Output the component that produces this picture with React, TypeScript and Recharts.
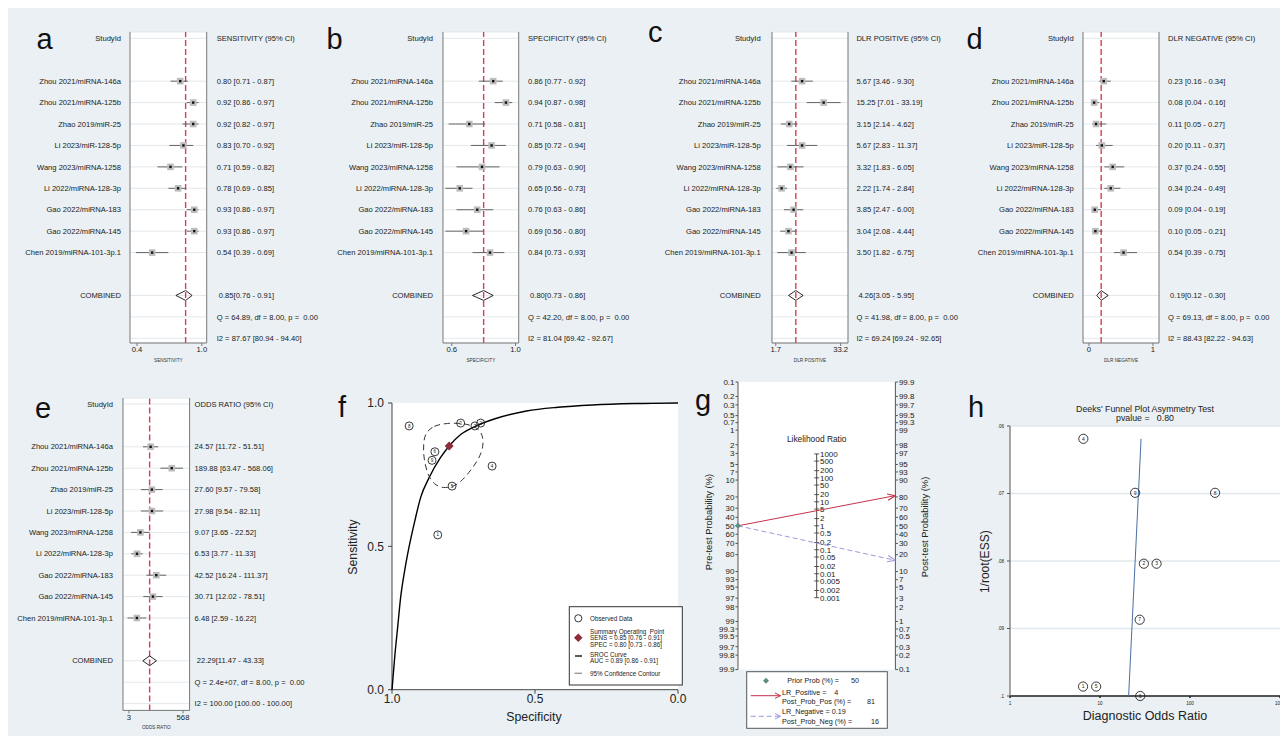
import React from "react";
import {
  ComposedChart,
  Scatter,
  XAxis,
  YAxis,
  CartesianGrid,
  ReferenceLine,
  ReferenceDot,
  ErrorBar,
} from "recharts";

const FONT = "'Liberation Sans', Arial, Helvetica, sans-serif";
const BG = "#eaf0f3";
const INK = "#222";

// ---------- study data (forest order) ----------
const studies = [
  "Zhou 2021/miRNA-146a",
  "Zhou 2021/miRNA-125b",
  "Zhao 2019/miR-25",
  "Li 2023/miR-128-5p",
  "Wang 2023/miRNA-1258",
  "Li 2022/miRNA-128-3p",
  "Gao 2022/miRNA-183",
  "Gao 2022/miRNA-145",
  "Chen 2019/miRNA-101-3p.1",
];
const studyNo = [9, 8, 7, 6, 5, 4, 3, 2, 1];

const sensEst = [0.8, 0.92, 0.92, 0.83, 0.71, 0.78, 0.93, 0.93, 0.54];
const sensLo = [0.71, 0.86, 0.82, 0.7, 0.59, 0.69, 0.86, 0.86, 0.39];
const sensHi = [0.87, 0.97, 0.97, 0.92, 0.82, 0.85, 0.97, 0.97, 0.69];
const sensPooled = [0.85, 0.76, 0.91];
const sensQ = "Q = 64.89, df = 8.00, p = \u00a00.00";
const sensI2 = "I2 = 87.67 [80.94 - 94.40]";
const sensTicks = [0.4, 1.0];

const specEst = [0.86, 0.94, 0.71, 0.85, 0.79, 0.65, 0.76, 0.69, 0.84];
const specLo = [0.77, 0.87, 0.58, 0.72, 0.63, 0.56, 0.63, 0.56, 0.73];
const specHi = [0.92, 0.98, 0.81, 0.94, 0.9, 0.73, 0.86, 0.8, 0.93];
const specPooled = [0.8, 0.73, 0.86];
const specQ = "Q = 42.20, df = 8.00, p = \u00a00.00";
const specI2 = "I2 = 81.04 [69.42 - 92.67]";
const specTicks = [0.6, 1.0];

const plrEst = [5.67, 15.25, 3.15, 5.67, 3.32, 2.22, 3.85, 3.04, 3.5];
const plrLo = [3.46, 7.01, 2.14, 2.83, 1.83, 1.74, 2.47, 2.08, 1.82];
const plrHi = [9.3, 33.19, 4.62, 11.37, 6.05, 2.84, 6.0, 4.44, 6.75];
const plrPooled = [4.26, 3.05, 5.95];
const plrQ = "Q = 41.98, df = 8.00, p = \u00a00.00";
const plrI2 = "I2 = 69.24 [69.24 - 92.65]";
const plrTicks = [1.7, 33.2];

const nlrEst = [0.23, 0.08, 0.11, 0.2, 0.37, 0.34, 0.09, 0.1, 0.54];
const nlrLo = [0.16, 0.04, 0.05, 0.11, 0.24, 0.24, 0.04, 0.05, 0.39];
const nlrHi = [0.34, 0.16, 0.27, 0.37, 0.55, 0.49, 0.19, 0.21, 0.75];
const nlrPooled = [0.19, 0.12, 0.3];
const nlrQ = "Q = 69.13, df = 8.00, p = \u00a00.00";
const nlrI2 = "I2 = 88.43 [82.22 - 94.63]";
const nlrTicks = [0, 1];

const dorEst = [24.57, 189.88, 27.6, 27.98, 9.07, 6.53, 42.52, 30.71, 6.48];
const dorLo = [11.72, 63.47, 9.57, 9.54, 3.65, 3.77, 16.24, 12.02, 2.59];
const dorHi = [51.51, 568.06, 79.58, 82.11, 22.52, 11.33, 111.37, 78.51, 16.22];
const dorPooled = [22.29, 11.47, 43.33];
const dorQ = "Q = 2.4e+07, df = 8.00, p = \u00a00.00";
const dorI2 = "I2 = 100.00 [100.00 - 100.00]";
const dorTicks = [3, 568];

// ---------- SROC ----------
const srocSpec = [1.0, 0.99, 0.98, 0.97, 0.955, 0.94, 0.92, 0.9, 0.87, 0.83, 0.8, 0.76, 0.71, 0.64, 0.53, 0.42, 0.3, 0.15, 0.0];
const srocSens = [0.0, 0.12, 0.22, 0.32, 0.42, 0.5, 0.59, 0.67, 0.74, 0.81, 0.85, 0.89, 0.918, 0.945, 0.972, 0.985, 0.993, 0.998, 1.0];
const contourSpec = [0.884, 0.855, 0.808, 0.75, 0.703, 0.682, 0.68, 0.697, 0.732, 0.767, 0.814, 0.855, 0.878, 0.89, 0.89];
const contourSens = [0.895, 0.921, 0.93, 0.93, 0.916, 0.889, 0.849, 0.802, 0.756, 0.715, 0.7, 0.715, 0.756, 0.814, 0.86];
const aucText = [0.89, 0.86, 0.91];

// ---------- Fagan ----------
const probTicks = [0.1, 0.2, 0.3, 0.5, 0.7, 1, 2, 3, 5, 7, 10, 20, 30, 40, 50, 60, 70, 80, 90, 93, 95, 97, 98, 99, 99.3, 99.5, 99.7, 99.8, 99.9];
const lrTicks = [1000, 500, 200, 100, 50, 20, 10, 5, 2, 1, 0.5, 0.2, 0.1, 0.05, 0.02, 0.01, 0.005, 0.002, 0.001];
const priorProb = 50;
const lrPositive = 4;
const lrNegative = 0.19;
const postPos = 81;
const postNeg = 16;

// ---------- Deeks ----------
const deeksY = [0.0699, 0.0699, 0.0887, 0.1, 0.0986, 0.0619, 0.0804, 0.0804, 0.0986];
const deeksFitX = [28.6, 20.8];
const deeksFitY = [0.0619, 0.1];
const deeksP = "0.80";
const deeksTicksX = [1, 10, 100, 1000];
const deeksTicksY = [0.06, 0.07, 0.08, 0.09, 0.1];

const f2 = (v: number) => v.toFixed(2);
const at = (x: number, y: number): React.CSSProperties => ({ position: "absolute", left: x - 8, top: y - 8 });
const logit = (p: number) => Math.log(p / (100 - p));

// plain one-line tick text (no wrapping)
const TextTick = (labels: Record<string, string>, fontSize: number) => (p: any) => (
  <text
    x={p.x}
    y={p.y}
    dy="0.355em"
    textAnchor={p.textAnchor}
    fontSize={fontSize}
    fill={INK}
    style={{ whiteSpace: "pre" }}
  >
    {labels[String(p.payload.value)] ?? ""}
  </text>
);

const StudyBox = (p: any) => (
  <g>
    <rect x={p.cx - 3.3} y={p.cy - 3.3} width={6.6} height={6.6} fill="#bdbdbd" />
    <rect x={p.cx - 1.2} y={p.cy - 1.2} width={2.4} height={2.4} fill="#111" />
  </g>
);
const Nothing = () => <g />;

function Forest(props: any) {
  const { est, lo, hi, pooled, header, q, i2, title, ticks, fmt, scale, domain, box } = props;
  const LW = 125;
  const RW = 125;
  const TOP = 8;
  const XH = 20;
  const width = box.x1 - box.x0 + LW + RW;
  const height = box.y1 - box.y0 + TOP + XH;
  const rowDom = [(box.y0 - box.row0) / box.rowH, (box.y1 - box.row0) / box.rowH];
  const pts = est.map((v: number, i: number) => ({ x: v, y: i + 2, err: [v - lo[i], hi[i] - v] }));
  const [pe, pl, ph] = pooled;
  const dia = [
    { x: pl, y: 12 },
    { x: pe, y: 11.77 },
    { x: ph, y: 12 },
    { x: pe, y: 12.23 },
  ];
  const left: Record<string, string> = { 0: "StudyId", 12: "COMBINED" };
  const right: Record<string, string> = {
    0: header,
    12: `\u00a0${f2(pe)}[${f2(pl)} - ${f2(ph)}]`,
    13: q,
    14: i2,
  };
  studies.forEach((s, i) => {
    left[i + 2] = s;
    right[i + 2] = `${f2(est[i])} [${f2(lo[i])} - ${f2(hi[i])}]`;
  });
  const rows = [0, 2, 3, 4, 5, 6, 7, 8, 9, 10, 12, 13, 14];
  return (
    <div style={at(box.x0 - LW, box.y0 - TOP)}>
      <ComposedChart width={width} height={height} margin={{ top: TOP, right: 0, bottom: 0, left: 0 }}>
        <CartesianGrid vertical={false} fill="#fff" stroke="#e2e8ec" />
        <XAxis
          type="number"
          dataKey="x"
          scale={scale}
          domain={domain}
          allowDataOverflow
          ticks={ticks}
          interval={0}
          tickFormatter={fmt}
          height={XH}
          tickSize={3}
          tickMargin={1}
          stroke="#777"
          tick={{ fontSize: 7.7, fill: INK }}
          label={{ value: title, position: "insideBottom", offset: 1, fontSize: 4.7, fill: "#333" }}
        />
        <YAxis
          type="number"
          dataKey="y"
          domain={rowDom}
          reversed
          allowDataOverflow
          ticks={rows}
          interval={0}
          width={LW}
          tickSize={0}
          tickMargin={box.gapL}
          stroke="#777"
          tick={TextTick(left, 7.6)}
        />
        <YAxis
          yAxisId="r"
          orientation="right"
          type="number"
          dataKey="y"
          domain={rowDom}
          reversed
          allowDataOverflow
          ticks={rows}
          interval={0}
          width={RW}
          tickSize={0}
          tickMargin={box.gapR}
          stroke="#777"
          tick={TextTick(right, 7.6)}
        />
        <ReferenceLine x={pe} stroke="#dc3a55" strokeDasharray="6 3" strokeWidth={1.4} />
        <Scatter data={pts} shape={StudyBox} isAnimationActive={false}>
          <ErrorBar dataKey="err" direction="x" width={0} stroke="#555" strokeWidth={0.9} />
        </Scatter>
        <Scatter
          yAxisId="r"
          data={dia}
          shape={Nothing}
          line={{ stroke: "#111", strokeWidth: 0.9 }}
          lineJointType="linearClosed"
          isAnimationActive={false}
        />
      </ComposedChart>
    </div>
  );
}

const rowsTop = { y0: 32, y1: 343, row0: 38.3, rowH: 21.43 };
const forestPanels = [
  {
    est: sensEst, lo: sensLo, hi: sensHi, pooled: sensPooled, header: "SENSITIVITY (95% CI)", q: sensQ, i2: sensI2,
    title: "SENSITIVITY", ticks: sensTicks, fmt: (v: number) => v.toFixed(1), scale: "linear", domain: [0.335, 1.045],
    box: { ...rowsTop, x0: 130, x1: 206.7, gapL: 9, gapR: 10 },
  },
  {
    est: specEst, lo: specLo, hi: specHi, pooled: specPooled, header: "SPECIFICITY (95% CI)", q: specQ, i2: specI2,
    title: "SPECIFICITY", ticks: specTicks, fmt: (v: number) => v.toFixed(1), scale: "linear", domain: [0.545, 1.02],
    box: { ...rowsTop, x0: 443.3, x1: 519, gapL: 10, gapR: 9.3 },
  },
  {
    est: plrEst, lo: plrLo, hi: plrHi, pooled: plrPooled, header: "DLR POSITIVE (95% CI)", q: plrQ, i2: plrI2,
    title: "DLR POSITIVE", ticks: plrTicks, fmt: (v: number) => String(v), scale: "log", domain: [1.43, 46.5],
    box: { ...rowsTop, x0: 772.3, x1: 848.3, gapL: 11.3, gapR: 8.4 },
  },
  {
    est: nlrEst, lo: nlrLo, hi: nlrHi, pooled: nlrPooled, header: "DLR NEGATIVE (95% CI)", q: nlrQ, i2: nlrI2,
    title: "DLR NEGATIVE", ticks: nlrTicks, fmt: (v: number) => String(v), scale: "linear", domain: [-0.094, 1.094],
    box: { ...rowsTop, x0: 1083.3, x1: 1159.3, gapL: 9.3, gapR: 9 },
  },
  {
    est: dorEst, lo: dorLo, hi: dorHi, pooled: dorPooled, header: "ODDS RATIO (95% CI)", q: dorQ, i2: dorI2,
    title: "ODDS RATIO", ticks: dorTicks, fmt: (v: number) => String(v), scale: "log", domain: [1.68, 1078],
    box: { y0: 398.3, y1: 710.7, row0: 404.3, rowH: 21.4, x0: 122.7, x1: 189.3, gapL: 10, gapR: 5 },
  },
];

const NumCircle = (r: number, fs: number) => (p: any) => (
  <g>
    <circle cx={p.cx} cy={p.cy} r={r} fill="none" stroke="#222" strokeWidth={0.9} />
    <text x={p.cx} y={p.cy} dy="0.35em" textAnchor="middle" fontSize={fs} fill="#222">
      {p.payload.n}
    </text>
  </g>
);

const RedDiamond = (p: any) => (
  <polygon
    points={`${p.cx - 4.5},${p.cy} ${p.cx},${p.cy - 4.5} ${p.cx + 4.5},${p.cy} ${p.cx},${p.cy + 4.5}`}
    fill="#8c2d3a"
  />
);

function Sroc() {
  const obs = specEst.map((s, i) => ({ x: s, y: sensEst[i], n: studyNo[i] }));
  const curve = srocSpec.map((s, i) => ({ x: s, y: srocSens[i] }));
  const contour = contourSpec.map((s, i) => ({ x: s, y: contourSens[i] }));
  const summary = [{ x: specPooled[0], y: sensPooled[0] }];
  return (
    <div style={at(351.7, 393.3)}>
      <ComposedChart width={346} height={316.7} margin={{ top: 10, right: 20, bottom: 0, left: 0 }}>
        <CartesianGrid fill="#fff" horizontal={false} vertical={false} />
        <XAxis
          type="number"
          dataKey="x"
          domain={[0, 1]}
          reversed
          ticks={[1, 0.5, 0]}
          interval={0}
          tickFormatter={(v: number) => v.toFixed(1)}
          height={20}
          tickSize={4}
          tickMargin={1}
          stroke="#444"
          tick={{ fontSize: 12, fill: INK }}
        />
        <YAxis
          type="number"
          dataKey="y"
          domain={[0, 1]}
          ticks={[0, 0.5, 1]}
          interval={0}
          tickFormatter={(v: number) => v.toFixed(1)}
          width={40}
          tickSize={4}
          tickMargin={4}
          stroke="#444"
          tick={{ fontSize: 12, fill: INK }}
        />
        <Scatter data={curve} shape={Nothing} line={{ stroke: "#000", strokeWidth: 1.4 }} lineJointType="monotoneX" isAnimationActive={false} />
        <Scatter
          data={contour}
          shape={Nothing}
          line={{ stroke: "#333", strokeWidth: 1, strokeDasharray: "6 4" }}
          lineJointType="basisClosed"
          isAnimationActive={false}
        />
        <Scatter data={obs} shape={NumCircle(4, 4.6)} isAnimationActive={false} />
        <Scatter data={summary} shape={RedDiamond} isAnimationActive={false} />
      </ComposedChart>
    </div>
  );
}

const LrTick = (p: any) => (
  <g>
    <line x1={p.cx - 2.5} x2={p.cx + 2.5} y1={p.cy} y2={p.cy} stroke="#333" strokeWidth={0.8} />
    <text x={p.cx + 3.3} y={p.cy} dy="0.35em" fontSize={8} fill={INK}>
      {p.payload.label}
    </text>
  </g>
);
const PriorMark = (p: any) => (
  <polygon
    points={`${p.cx - 3},${p.cy} ${p.cx},${p.cy - 3} ${p.cx + 3},${p.cy} ${p.cx},${p.cy + 3}`}
    fill="#5d8f7e"
  />
);

function Fagan() {
  const D = -logit(0.1);
  const preMap: Record<string, string> = {};
  const postMap: Record<string, string> = {};
  probTicks.forEach((p) => {
    preMap[(-logit(p)).toFixed(5)] = String(p);
    postMap[logit(p).toFixed(5)] = String(p);
  });
  const lrPts = lrTicks.map((v) => ({ x: 0.5, y: Math.log(v) / 2, label: String(v) }));
  const pre = -logit(priorProb);
  const posLine = [
    { x: 0, y: pre },
    { x: 1, y: logit(postPos) },
  ];
  const negLine = [
    { x: 0, y: pre },
    { x: 1, y: logit(postNeg) },
  ];
  const tick = { fontSize: 8, fill: INK };
  return (
    <div style={at(703.3, 376.7)}>
      <ComposedChart width={222.4} height={297.6} margin={{ top: 5, right: 0, bottom: 5, left: 0 }}>
        <defs>
          <marker id="arR" viewBox="0 0 10 10" refX="10" refY="5" markerWidth="8" markerHeight="8" markerUnits="userSpaceOnUse" orient="auto">
            <path d="M0,1 L10,5 L0,9" fill="none" stroke="#c3334b" strokeWidth="1.4" />
          </marker>
          <marker id="arB" viewBox="0 0 10 10" refX="10" refY="5" markerWidth="8" markerHeight="8" markerUnits="userSpaceOnUse" orient="auto">
            <path d="M0,1 L10,5 L0,9" fill="none" stroke="#9d98dd" strokeWidth="1.4" />
          </marker>
        </defs>
        <CartesianGrid fill="#fff" horizontal={false} vertical={false} yAxisId="pre" />
        <XAxis type="number" dataKey="x" domain={[0, 1]} hide />
        <YAxis
          yAxisId="pre"
          type="number"
          dataKey="y"
          domain={[-D, D]}
          ticks={probTicks.map((p) => -logit(p))}
          interval={0}
          width={35}
          tickSize={2.5}
          tickMargin={1}
          stroke="#555"
          tick={tick}
          tickFormatter={(v: number) => preMap[v.toFixed(5)] ?? ""}
        />
        <YAxis
          yAxisId="post"
          orientation="right"
          type="number"
          dataKey="y"
          domain={[-D, D]}
          ticks={probTicks.map((p) => logit(p))}
          interval={0}
          width={30}
          tickSize={2.5}
          tickMargin={1}
          stroke="#555"
          tick={tick}
          tickFormatter={(v: number) => postMap[v.toFixed(5)] ?? ""}
        />
        <ReferenceLine
          yAxisId="pre"
          segment={[
            { x: 0.5, y: Math.log(lrTicks[0]) / 2 },
            { x: 0.5, y: Math.log(lrTicks[lrTicks.length - 1]) / 2 },
          ]}
          stroke="#333"
          strokeWidth={0.9}
        />
        <ReferenceDot
          yAxisId="pre"
          x={0.5}
          y={Math.log(lrTicks[0]) / 2}
          r={0}
          stroke="none"
          label={{ value: "Likelihood Ratio", position: "top", offset: 12, fontSize: 8.4, fill: INK }}
        />
        <Scatter yAxisId="pre" data={lrPts} shape={LrTick} isAnimationActive={false} />
        <Scatter
          yAxisId="post"
          data={posLine}
          shape={Nothing}
          line={{ stroke: "#c3334b", strokeWidth: 1, markerEnd: "url(#arR)" }}
          isAnimationActive={false}
        />
        <Scatter
          yAxisId="post"
          data={negLine}
          shape={Nothing}
          line={{ stroke: "#9d98dd", strokeWidth: 1, strokeDasharray: "5 3", markerEnd: "url(#arB)" }}
          isAnimationActive={false}
        />
        <Scatter yAxisId="pre" data={[{ x: 0, y: pre }]} shape={PriorMark} isAnimationActive={false} />
      </ComposedChart>
    </div>
  );
}

function Deeks() {
  const pts = dorEst.map((d, i) => ({ x: d, y: deeksY[i], n: studyNo[i] }));
  const fit = deeksFitX.map((x, i) => ({ x, y: deeksFitY[i] }));
  return (
    <div style={at(990, 416)}>
      <ComposedChart width={298} height={296} margin={{ top: 10, right: 8, bottom: 0, left: 0 }}>
        <CartesianGrid vertical={false} fill="#fff" stroke="#e0e8ee" strokeWidth={1.5} />
        <XAxis
          type="number"
          dataKey="x"
          scale="log"
          domain={[1, 1000]}
          ticks={deeksTicksX}
          interval={0}
          height={16}
          tickSize={2}
          tickMargin={4}
          stroke="#222"
          strokeWidth={1.5}
          tick={{ fontSize: 4.6, fill: INK }}
        />
        <YAxis
          type="number"
          dataKey="y"
          domain={[0.06, 0.1]}
          reversed
          ticks={deeksTicksY}
          interval={0}
          width={20}
          tickSize={3}
          tickMargin={3}
          stroke="#555"
          tick={{ fontSize: 4.6, fill: INK }}
          tickFormatter={(v: number) => v.toFixed(2).replace(/^0/, "").replace(/0$/, "")}
        />
        <Scatter data={fit} shape={Nothing} line={{ stroke: "#4a6fa0", strokeWidth: 1 }} isAnimationActive={false} />
        <Scatter data={pts} shape={NumCircle(4.6, 5)} isAnimationActive={false} />
      </ComposedChart>
    </div>
  );
}

function Overlay() {
  const letters = [
    ["a", 36.5, 49],
    ["b", 326.5, 49],
    ["c", 648, 42],
    ["d", 966.5, 49],
    ["e", 35, 418],
    ["f", 338, 417],
    ["g", 695, 410],
    ["h", 968, 417],
  ] as const;
  const lt = { fontSize: 6.3, fill: INK };
  const gt = { fontSize: 7.2, fill: INK, style: { whiteSpace: "pre" as const } };
  return (
    <svg
      width={1288}
      height={736}
      style={{ position: "absolute", left: -8, top: -8, pointerEvents: "none", fontFamily: FONT }}
    >
      {letters.map(([t, x, y]) => (
        <text key={t} x={x} y={y} fontSize={29} fill="#111">
          {t}
        </text>
      ))}
      {/* f axis titles */}
      <text x={353.3} y={547} fontSize={12.3} fill={INK} textAnchor="middle" dominantBaseline="central" transform="rotate(-90 353.3 547)">
        Sensitivity
      </text>
      <text x={534} y={716.7} fontSize={12.3} fill={INK} textAnchor="middle" dominantBaseline="central">
        Specificity
      </text>
      {/* f legend */}
      <rect x={569.3} y={606.7} width={113} height={78.3} fill="#fff" stroke="#333" strokeWidth={1} />
      <circle cx={578.3} cy={618.3} r={3.6} fill="none" stroke="#222" strokeWidth={0.9} />
      <text x={590} y={618.3} dominantBaseline="central" {...lt}>Observed Data</text>
      <polygon points="574,637.7 578.3,633.4 582.6,637.7 578.3,642" fill="#8c2d3a" />
      <text x={590} y={631.5} dominantBaseline="central" {...lt} style={{ whiteSpace: "pre" }}>Summary Operating  Point</text>
      <text x={590} y={637.7} dominantBaseline="central" {...lt}>{`SENS = ${f2(sensPooled[0])} [${f2(sensPooled[1])} - ${f2(sensPooled[2])}]`}</text>
      <text x={590} y={644} dominantBaseline="central" {...lt}>{`SPEC = ${f2(specPooled[0])} [${f2(specPooled[1])} - ${f2(specPooled[2])}]`}</text>
      <line x1={575} x2={582} y1={656} y2={656} stroke="#000" strokeWidth={1.3} />
      <text x={590} y={654.3} dominantBaseline="central" {...lt}>SROC Curve</text>
      <text x={590} y={660.7} dominantBaseline="central" {...lt}>{`AUC = ${f2(aucText[0])} [${f2(aucText[1])} - ${f2(aucText[2])}]`}</text>
      <line x1={574.5} x2={582} y1={673.3} y2={673.3} stroke="#999" strokeWidth={1.4} />
      <text x={590} y={673.3} dominantBaseline="central" {...lt}>95% Confidence Contour</text>
      {/* g axis titles */}
      <text x={708} y={522} fontSize={9.4} fill={INK} textAnchor="middle" dominantBaseline="central" transform="rotate(-90 708 522)">
        Pre-test Probability (%)
      </text>
      <text x={924.3} y={527} fontSize={9.4} fill={INK} textAnchor="middle" dominantBaseline="central" transform="rotate(-90 924.3 527)">
        Post-test Probability (%)
      </text>
      {/* g legend */}
      <rect x={746.7} y={671.7} width={140.6} height={56.6} fill="#fff" stroke="#555" strokeWidth={1} />
      <polygon points="763,680.7 766,677.7 769,680.7 766,683.7" fill="#5d8f7e" />
      <text x={787.3} y={680.7} dominantBaseline="central" {...gt}>Prior Prob (%) =</text>
      <text x={859} y={680.7} dominantBaseline="central" textAnchor="end" {...gt}>{priorProb}</text>
      <line x1={750.7} x2={780.5} y1={695.7} y2={695.7} stroke="#c3334b" strokeWidth={1} />
      <path d="M775,693 L780.5,695.7 L775,698.4" fill="none" stroke="#c3334b" strokeWidth={1} />
      <text x={782} y={692} dominantBaseline="central" {...gt}>LR_Positive =</text>
      <text x={838.3} y={692} dominantBaseline="central" textAnchor="end" {...gt}>{lrPositive}</text>
      <text x={782} y={701.3} dominantBaseline="central" {...gt}>Post_Prob_Pos (%) =</text>
      <text x={875} y={701.3} dominantBaseline="central" textAnchor="end" {...gt}>{postPos}</text>
      <line x1={750.7} x2={780.5} y1={716.3} y2={716.3} stroke="#9d98dd" strokeWidth={1} strokeDasharray="5 3" />
      <path d="M775,713.6 L780.5,716.3 L775,719" fill="none" stroke="#9d98dd" strokeWidth={1} />
      <text x={782} y={711.3} dominantBaseline="central" {...gt}>{`LR_Negative = ${lrNegative}`}</text>
      <text x={782} y={721.3} dominantBaseline="central" {...gt}>Post_Prob_Neg (%) =</text>
      <text x={879} y={721.3} dominantBaseline="central" textAnchor="end" {...gt}>{postNeg}</text>
      {/* h titles */}
      <text x={1145} y={409.3} fontSize={8.8} fill={INK} textAnchor="middle" dominantBaseline="central">
        Deeks' Funnel Plot Asymmetry Test
      </text>
      <text x={1145} y={418.3} fontSize={8.8} fill={INK} textAnchor="middle" dominantBaseline="central" style={{ whiteSpace: "pre" }}>
        {`pvalue =   ${deeksP}`}
      </text>
      <text x={985} y={561.7} fontSize={12} fill={INK} textAnchor="middle" dominantBaseline="central" transform="rotate(-90 985 561.7)">
        1/root(ESS)
      </text>
      <text x={1145} y={715.7} fontSize={12.5} fill={INK} textAnchor="middle" dominantBaseline="central">
        Diagnostic Odds Ratio
      </text>
    </svg>
  );
}

export default function App() {
  return (
    <div style={{ position: "relative", width: 1280, height: 728, background: BG, fontFamily: FONT, overflow: "hidden" }}>
      {forestPanels.map((p, i) => (
        <Forest key={i} {...p} />
      ))}
      <Sroc />
      <Fagan />
      <Deeks />
      <Overlay />
    </div>
  );
}
